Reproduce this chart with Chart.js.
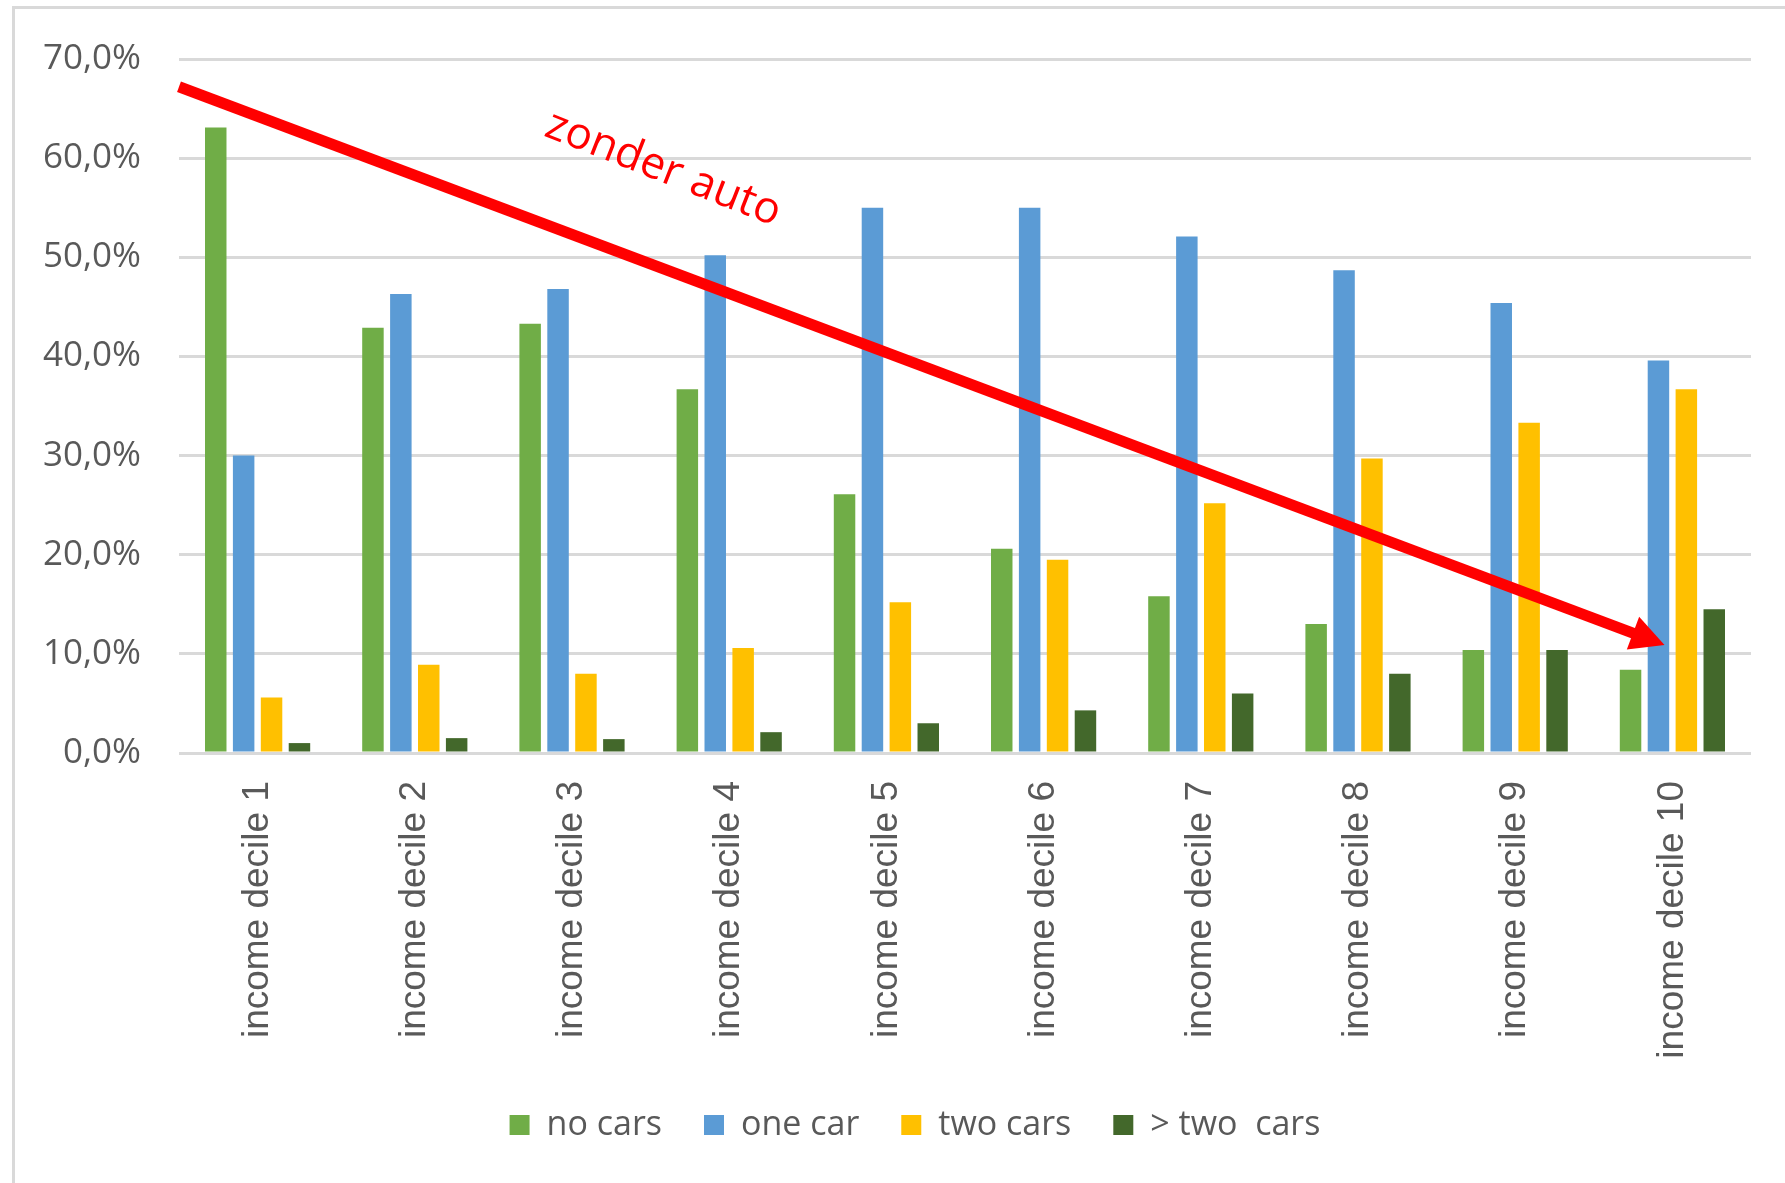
<!DOCTYPE html>
<html>
<head>
<meta charset="utf-8">
<title>Car ownership by income decile</title>
<script src="https://cdn.jsdelivr.net/npm/chart.js@4.4.1/dist/chart.umd.min.js"></script>
<style>
    body { margin: 0; background: #fff; }
    #bar-chart { display: block; }
</style>
</head>
<body>
<canvas id="bar-chart" width="1785" height="1183"></canvas>
<script>
/*DATA*/
const deciles = ["income decile 1", "income decile 2", "income decile 3", "income decile 4", "income decile 5",
                 "income decile 6", "income decile 7", "income decile 8", "income decile 9", "income decile 10"];
const noCars   = [63.1, 42.9, 43.3, 36.7, 26.1, 20.6, 15.8, 13.0, 10.4, 8.4];
const oneCar   = [30.0, 46.3, 46.8, 50.2, 55.0, 55.0, 52.1, 48.7, 45.4, 39.6];
const twoCars  = [5.6, 8.9, 8.0, 10.6, 15.2, 19.5, 25.2, 29.7, 33.3, 36.7];
const moreCars = [1.0, 1.5, 1.4, 2.1, 3.0, 4.3, 6.0, 8.0, 10.4, 14.5];
const seriesNames = ["no cars", "one car", "two cars", "> two  cars"];
const yMax = 70;
const yStep = 10;

// trend arrow, in axis units (category index, percent)
const arrowFrom = [-0.5, 67.2];
const arrowTo = [8.95, 10.9];
const arrowText = "zonder auto";
const arrowTextAt = [2.58, 58.9];

Chart.defaults.font.family = "'Open Sans', sans-serif";
Chart.defaults.color = "#595959";

// light grey frame round the whole chart
const framePlugin = {
    id: "frame",
    beforeDraw(chart) {
        const ctx = chart.ctx;
        ctx.save();
        ctx.strokeStyle = "#d9d9d9";
        ctx.lineWidth = 3;
        ctx.strokeRect(13.5, 7.5, chart.width + 40, chart.height + 40);
        ctx.restore();
    }
};

// legend sits a bit right of the canvas centre
const legendShift = {
    id: "legendShift",
    afterLayout(chart) {
        chart.legend.left += 79;
    }
};

// red arrow + label drawn over the bars
const arrowPlugin = {
    id: "trendArrow",
    afterDatasetsDraw(chart) {
        const xs = chart.scales.x;
        const ys = chart.scales.y;
        const ctx = chart.ctx;
        const x1 = xs.getPixelForValue(arrowFrom[0]);
        const y1 = ys.getPixelForValue(arrowFrom[1]);
        const x2 = xs.getPixelForValue(arrowTo[0]);
        const y2 = ys.getPixelForValue(arrowTo[1]);
        const ang = Math.atan2(y2 - y1, x2 - x1);
        const head = 38;

        ctx.save();
        ctx.strokeStyle = "#ff0000";
        ctx.fillStyle = "#ff0000";
        ctx.lineWidth = 11;
        ctx.beginPath();
        ctx.moveTo(x1, y1);
        ctx.lineTo(x2 - Math.cos(ang) * head * 0.7, y2 - Math.sin(ang) * head * 0.7);
        ctx.stroke();

        ctx.beginPath();
        ctx.moveTo(x2, y2);
        ctx.lineTo(x2 - head * Math.cos(ang - 0.48), y2 - head * Math.sin(ang - 0.48));
        ctx.lineTo(x2 - head * Math.cos(ang + 0.48), y2 - head * Math.sin(ang + 0.48));
        ctx.closePath();
        ctx.fill();

        ctx.translate(xs.getPixelForValue(arrowTextAt[0]), ys.getPixelForValue(arrowTextAt[1]));
        ctx.rotate(ang + 0.015);
        ctx.font = "44px 'Open Sans'";
        ctx.textAlign = "center";
        ctx.textBaseline = "middle";
        ctx.fillText(arrowText, 0, 0);
        ctx.restore();
    }
};

function bars(label, values, colour) {
    return {
        label: label,
        data: values,
        backgroundColor: colour,
        borderWidth: 0,
        categoryPercentage: 0.71,
        barPercentage: 0.77
    };
}

new Chart(document.getElementById("bar-chart"), {
    type: "bar",
    data: {
        labels: deciles,
        datasets: [
            bars(seriesNames[0], noCars, "#70ad47"),
            bars(seriesNames[1], oneCar, "#5b9bd5"),
            bars(seriesNames[2], twoCars, "#ffc000"),
            bars(seriesNames[3], moreCars, "#43682b")
        ]
    },
    options: {
        responsive: false,
        animation: false,
        layout: {
            padding: { left: 0, right: 34, top: 51, bottom: 31 }
        },
        plugins: {
            tooltip: { enabled: false },
            legend: {
                position: "bottom",
                labels: {
                    boxWidth: 20,
                    boxHeight: 20,
                    padding: 42,
                    color: "#595959",
                    font: { size: 34 }
                }
            }
        },
        scales: {
            x: {
                grid: { display: false },
                border: { display: false },
                ticks: {
                    autoSkip: false,
                    minRotation: 90,
                    maxRotation: 90,
                    padding: 20,
                    color: "#595959",
                    font: { family: "'Liberation Sans', Arial, sans-serif", size: 37 }
                },
                afterFit(scale) { scale.height = 313; }
            },
            y: {
                min: 0,
                max: yMax,
                border: { display: false },
                grid: { color: "#d9d9d9", lineWidth: 3, drawTicks: false },
                ticks: {
                    stepSize: yStep,
                    padding: 38,
                    color: "#595959",
                    font: { size: 35 },
                    callback: (v) => v.toFixed(1).replace(".", ",") + "%"
                },
                afterFit(scale) { scale.width = 179; }
            }
        }
    },
    plugins: [framePlugin, legendShift, arrowPlugin]
});
</script>
</body>
</html>
